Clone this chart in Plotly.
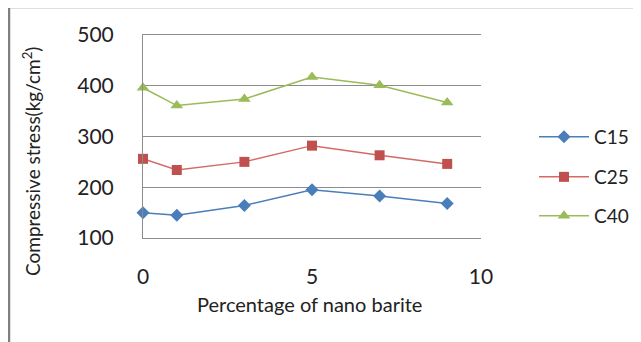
import plotly.graph_objects as go

x_vals = [0, 1, 3, 5, 7, 9]
c15 = [150, 145, 164, 195, 183, 168]
c25 = [256, 234, 250, 282, 263, 246]
c40 = [396, 361, 374, 417, 401, 367]
series_names = ["C15", "C25", "C40"]
y_ticks = [100, 200, 300, 400, 500]
x_ticks = [0, 5, 10]

W, H = 641, 342
OFF = 8  # page body margin offset
L, R, T, B = 143 - OFF, 481 - OFF, 35 - OFF, 238 - OFF
FONT = "Lato, 'Open Sans', sans-serif"
GRID = "#8C8C8C"

def px(xp):
    return (xp - OFF - L) / (R - L)

def py(yp):
    return (B - (yp - OFF)) / (B - T)

fig = go.Figure()
styles = [
    ("#4A7EBB", "#4A7EBB", "diamond", 10),
    ("#C0504D", "#D46A67", "square", 10),
    ("#9BBB59", "#9BBB59", "triangle-up", 11),
]
data = [c15, c25, c40]
legends = ["legend", "legend2", "legend3"]
for name, ys, (mc, lc, sym, ms), lg in zip(series_names, data, styles, legends):
    fig.add_trace(go.Scatter(
        x=x_vals, y=ys, name=name, mode="lines+markers",
        line=dict(color=lc, width=1.5),
        marker=dict(color=mc, symbol=sym, size=ms, line=dict(width=0)),
        legend=lg, cliponaxis=False, showlegend=True,
    ))

leg_common = dict(font=dict(family=FONT, size=19, color="#222"),
                  bgcolor="rgba(0,0,0,0)", xanchor="left", yanchor="middle",
                  itemwidth=50, visible=True)
fig.update_layout(
    showlegend=True,
    legend=dict(x=px(534), y=py(137), **leg_common),
    legend2=dict(x=px(534), y=py(177), **leg_common),
    legend3=dict(x=px(534), y=py(216), **leg_common),
)

fig.update_layout(
    width=W, height=H,
    margin=dict(l=L, r=W - R, t=T, b=H - B, pad=0, autoexpand=False),
    paper_bgcolor="white", plot_bgcolor="white",
    font=dict(family=FONT, color="#222"),
    xaxis=dict(range=[0, 10], tickvals=x_ticks, showgrid=False, zeroline=False,
               showline=True, mirror=True, linecolor=GRID, linewidth=1,
               ticks="", tickfont=dict(size=21, family=FONT),
               ticklabelstandoff=20),
    yaxis=dict(range=[100, 500], tickvals=y_ticks, showgrid=True,
               gridcolor=GRID, gridwidth=1, zeroline=False,
               showline=True, linecolor=GRID, linewidth=1, ticks="",
               tickfont=dict(size=21, family=FONT), ticklabelstandoff=24),
    annotations=[
        dict(text="Percentage of nano barite", x=px(309), y=py(304),
             xref="paper", yref="paper", showarrow=False,
             font=dict(size=20, family=FONT, color="#222"),
             xanchor="center", yanchor="middle"),
        dict(text="Compressive stress(kg/cm<sup>2</sup>)", x=px(31), y=py(161),
             xref="paper", yref="paper", showarrow=False, textangle=-90,
             font=dict(size=19, family=FONT, color="#222"),
             xanchor="center", yanchor="middle"),
    ],
    shapes=[
        dict(type="line", xref="paper", yref="paper",
             x0=px(9), x1=px(700), y0=py(7), y1=py(7),
             line=dict(color="#808080", width=2.5)),
        dict(type="line", xref="paper", yref="paper",
             x0=px(9), x1=px(9), y0=py(7), y1=py(400),
             line=dict(color="#808080", width=2.5)),
    ],
)

fig.write_html("out.html")
